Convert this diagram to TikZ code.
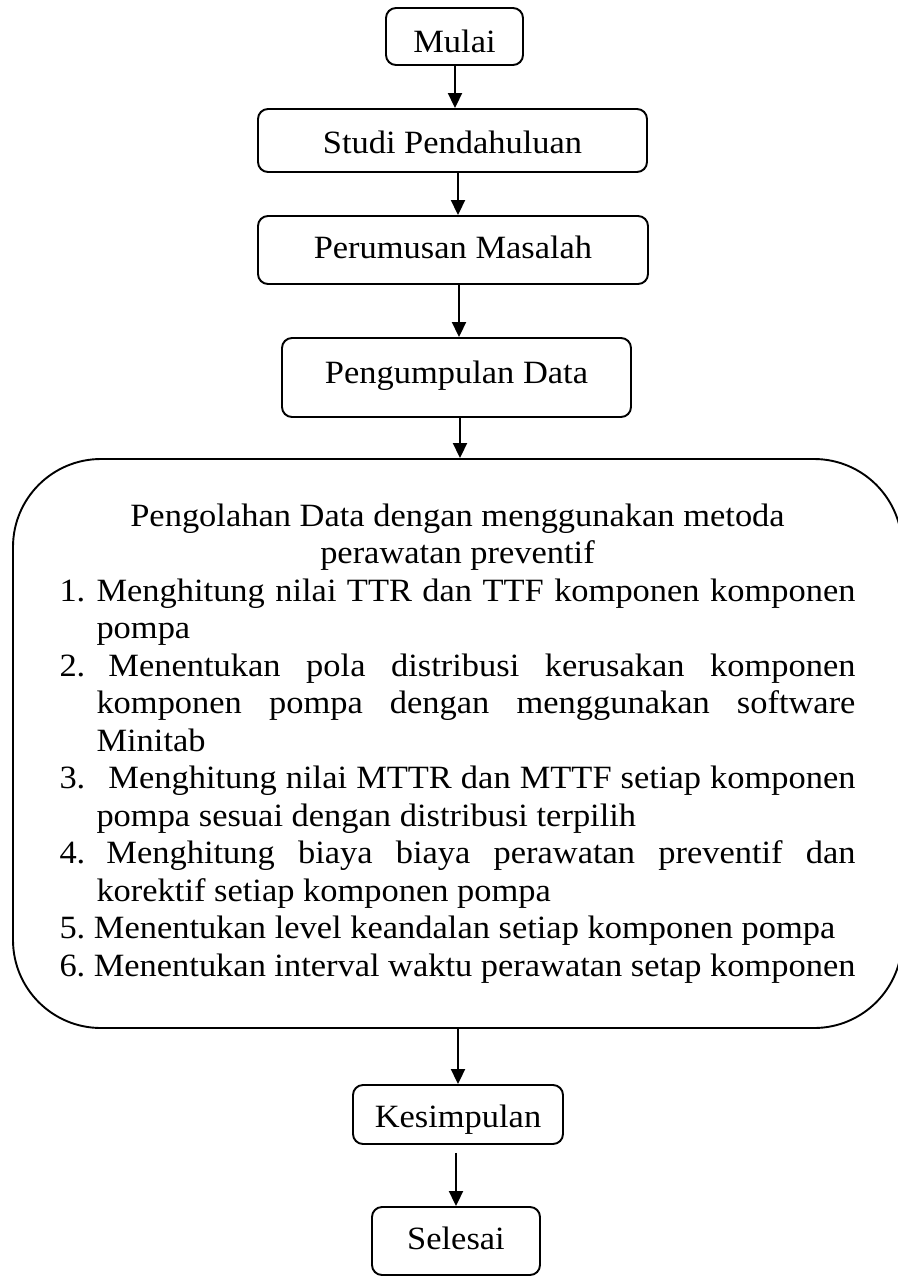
\documentclass[tikz,border=0pt]{standalone}
\usepackage{fontspec}
\setmainfont[FakeStretch=1.06]{Liberation Serif}
\usetikzlibrary{arrows.meta}
\newcommand\fsz{\fontsize{32.5pt}{37.5pt}\selectfont}
\newdimen\blockw \blockw=796pt
\newdimen\numw \numw=37pt
% one line of the processing block: justified, indented, numbered
\newcommand\jl[1]{\hbox to\blockw{#1}}
\newcommand\il[1]{\hbox to\blockw{\hskip\numw\relax #1\hfil}}
\newcommand\nl[3]{\hbox to\blockw{\hbox to\numw{#1\hfil}\kern#2\relax #3}}
\hbadness=10000
\tikzset{
  stepbox/.style={draw, line width=1.9pt, rounded corners=10pt, inner sep=0pt,
    font=\fsz, text height=25pt, text depth=0pt},
  bigbox/.style={draw, line width=1.9pt, rounded corners=88pt, inner sep=0pt,
    font=\fsz, text width=796pt, align=left,
    minimum width=889pt, minimum height=569pt},
  arr/.style={line width=1.9pt, -{Triangle[width=14pt,length=15pt]}}
}
\begin{document}
\begin{tikzpicture}[x=1pt, y=-1pt]
\useasboundingbox (0,0) rectangle (897,1277);
\fill[white] (0,0) rectangle (897,1277);

\node[stepbox, minimum width=137pt, minimum height=57pt, text height=31pt]
  (mulai) at (454.5,36.5) {Mulai};
\node[stepbox, minimum width=389pt, minimum height=63pt]
  (studi) at (452.5,140.5) {Studi Pendahuluan};
\node[stepbox, minimum width=390pt, minimum height=68pt, text height=22pt, text depth=6pt]
  (rumus) at (453,250) {Perumusan Masalah};
\node[stepbox, minimum width=349pt, minimum height=79pt, text height=22pt, text depth=11pt]
  (kumpul) at (456.5,377.5) {Pengumpulan Data};

\node[bigbox] (olah) at (457.5,743.5) {%
  \spaceskip=0pt \xspaceskip=0pt \frenchspacing
  \jl{\hfil Pengolahan Data dengan menggunakan metoda\hfil}
  \jl{\hfil perawatan preventif\hfil}
  \nl{1.}{0pt}{Menghitung nilai TTR dan TTF komponen komponen}
  \il{pompa}
  \nl{2.}{12pt}{Menentukan pola distribusi kerusakan komponen}
  \jl{\hskip\numw\relax komponen pompa dengan menggunakan software}
  \il{Minitab}
  \nl{3.}{12pt}{Menghitung nilai MTTR dan MTTF setiap komponen}
  \il{pompa sesuai dengan distribusi terpilih}
  \nl{4.}{10pt}{Menghitung biaya biaya perawatan preventif dan}
  \il{korektif setiap komponen pompa}
  \jl{5. Menentukan level keandalan setiap komponen pompa\hfil}
  \jl{6. Menentukan interval waktu perawatan setap komponen\hfil}};

\node[stepbox, minimum width=210pt, minimum height=59pt]
  (simpul) at (458,1114.5) {Kesimpulan};
\node[stepbox, minimum width=168pt, minimum height=68pt, text height=22pt, text depth=6pt]
  (selesai) at (456,1241) {Selesai};

\draw[arr] ([xshift=0.5pt]mulai.south) -- ([xshift=0.5pt]mulai.south |- studi.north);
\draw[arr] ([xshift=5.5pt]studi.south) -- ([xshift=5.5pt]studi.south |- rumus.north);
\draw[arr] ([xshift=6pt]rumus.south) -- ([xshift=6pt]rumus.south |- kumpul.north);
\draw[arr] ([xshift=3.5pt]kumpul.south) -- ([xshift=3.5pt]kumpul.south |- olah.north);
\draw[arr] ([xshift=0.5pt]olah.south) -- ([xshift=0.5pt]olah.south |- simpul.north);
\draw[arr] ([xshift=-2pt,yshift=-8pt]simpul.south) -- ([xshift=-2pt]simpul.south |- selesai.north);
\end{tikzpicture}
\end{document}
